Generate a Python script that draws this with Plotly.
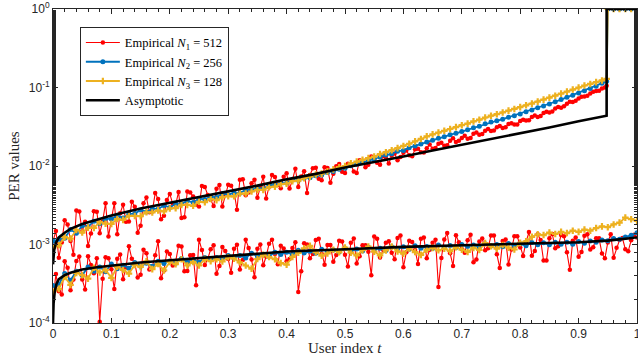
import numpy as np
import plotly.graph_objects as go

# ---------------- data ----------------
t_lower = [round(0.01 * k, 2) for k in range(101)]
t_upper = [round(0.01 * k, 2) for k in range(95)] + [0.948, 0.95, 0.96, 0.97, 0.98, 0.99, 1.0]
t_mid_upper = [round(0.005 + 0.01 * k, 3) for k in range(95)]
t_mid_lower = [round(0.005 + 0.01 * k, 3) for k in range(100)]

red_upper = [1.1e-3, 6.8e-4, 2.04e-3, 1.11e-3, 2.72e-3, 1.46e-3, 9.6e-4, 2.65e-3, 1.39e-3, 3.36e-3,
             2.11e-3, 1.35e-3, 3.21e-3, 1.97e-3, 3.03e-3, 1.73e-3, 3.98e-3, 2.63e-3, 3.79e-3, 2.32e-3,
             4.41e-3, 3.20e-3, 2.18e-3, 4.75e-3, 4.08e-3, 3.05e-3, 5.42e-3, 3.71e-3, 5.14e-3, 3.04e-3,
             5.75e-3, 4.70e-3, 6.67e-3, 4.25e-3, 6.05e-3, 3.93e-3, 7.29e-3, 5.45e-3, 7.22e-3, 5.22e-3,
             8.11e-3, 6.63e-3, 5.42e-3, 8.57e-3, 7.70e-3, 9.53e-3, 6.59e-3, 9.41e-3, 7.98e-3, 1.06e-2,
             8.12e-3, 1.04e-2, 8.16e-3, 1.16e-2, 1.04e-2, 1.23e-2, 1.04e-2, 1.26e-2, 1.36e-2, 1.18e-2,
             1.48e-2, 1.37e-2, 1.63e-2, 1.50e-2, 1.68e-2, 1.66e-2, 1.92e-2, 1.81e-2, 2.09e-2, 2.02e-2,
             2.27e-2, 2.22e-2, 2.57e-2, 2.50e-2, 2.81e-2, 2.80e-2, 3.12e-2, 3.05e-2, 3.44e-2, 3.38e-2,
             3.73e-2, 3.81e-2, 4.22e-2, 4.21e-2, 4.72e-2, 4.79e-2, 5.39e-2, 5.51e-2, 6.23e-2, 6.53e-2,
             7.25e-2, 7.68e-2, 8.40e-2, 9.00e-2, 9.71e-2, 0.105,
             1.0, 1.0, 1.0, 1.0, 1.0, 1.0]

red_upper_mid = [1.49e-3, 1.06e-3, 1.8e-3, 7.4e-4, 2.64e-3, 1.95e-3, 1.38e-3, 2.61e-3, 1.97e-3, 1.26e-3,
                 3.36e-3, 2.51e-3, 1.95e-3, 3.5e-3, 1.41e-3, 3.35e-3, 2.57e-3, 4.52e-3, 2.1e-3, 3.69e-3,
                 3.3e-3, 4.67e-3, 2.23e-3, 4.61e-3, 3.18e-3, 5.56e-3, 4.27e-3, 3.09e-3, 5.71e-3, 4.26e-3,
                 5.6e-3, 2.77e-3, 6.79e-3, 4.59e-3, 6.67e-3, 5.43e-3, 3.86e-3, 7.7e-3, 5.76e-3, 7.3e-3,
                 5.15e-3, 9.23e-3, 7.33e-3, 4.54e-3, 9.38e-3, 6.88e-3, 9.65e-3, 6.1e-3, 9.93e-3, 8.43e-3,
                 1.07e-2, 8.5e-3, 1.18e-2, 9.63e-3, 1.32e-2, 1.10e-2, 1.34e-2, 1.08e-2, 1.44e-2, 1.30e-2,
                 1.58e-2, 1.33e-2, 1.66e-2, 1.49e-2, 1.88e-2, 1.70e-2, 1.98e-2, 1.84e-2, 2.26e-2, 2.09e-2,
                 2.42e-2, 2.28e-2, 2.68e-2, 2.56e-2, 2.95e-2, 2.83e-2, 3.24e-2, 3.11e-2, 3.51e-2, 3.39e-2,
                 3.89e-2, 3.82e-2, 4.39e-2, 4.33e-2, 4.92e-2, 4.95e-2, 5.66e-2, 5.77e-2, 6.60e-2, 6.80e-2,
                 7.63e-2, 7.87e-2, 8.82e-2, 9.07e-2, 9.98e-2]

blue_upper = [1.1e-3, 1.17e-3, 1.20e-3, 1.55e-3, 1.39e-3, 1.73e-3, 1.68e-3, 1.98e-3, 1.84e-3, 2.13e-3,
              2.11e-3, 2.35e-3, 2.18e-3, 2.45e-3, 2.48e-3, 2.76e-3, 2.60e-3, 2.87e-3, 2.84e-3, 3.14e-3,
              2.95e-3, 3.30e-3, 3.27e-3, 3.61e-3, 3.42e-3, 3.83e-3, 3.75e-3, 4.06e-3, 3.98e-3, 4.45e-3,
              4.31e-3, 4.55e-3, 4.51e-3, 4.99e-3, 4.95e-3, 5.23e-3, 5.13e-3, 5.75e-3, 5.71e-3, 6.06e-3,
              6.08e-3, 6.63e-3, 6.57e-3, 7.00e-3, 7.08e-3, 7.54e-3, 7.66e-3, 8.29e-3, 8.52e-3, 9.11e-3,
              9.36e-3, 1.01e-2, 1.05e-2, 1.12e-2, 1.16e-2, 1.23e-2, 1.30e-2, 1.38e-2, 1.43e-2, 1.54e-2,
              1.58e-2, 1.71e-2, 1.80e-2, 1.91e-2, 2.02e-2, 2.13e-2, 2.25e-2, 2.35e-2, 2.51e-2, 2.61e-2,
              2.75e-2, 2.90e-2, 3.08e-2, 3.22e-2, 3.46e-2, 3.63e-2, 3.77e-2, 3.95e-2, 4.18e-2, 4.37e-2,
              4.58e-2, 4.90e-2, 5.17e-2, 5.51e-2, 5.83e-2, 6.18e-2, 6.58e-2, 7.01e-2, 7.51e-2, 7.97e-2,
              8.52e-2, 9.10e-2, 9.74e-2, 0.104, 0.113, 0.12,
              1.0, 1.0, 1.0, 1.0, 1.0, 1.0]

yellow_upper = [9.0e-4, 9.8e-4, 1.24e-3, 1.19e-3, 1.53e-3, 1.42e-3, 1.64e-3, 1.63e-3, 1.93e-3, 1.84e-3,
                1.83e-3, 2.11e-3, 2.06e-3, 2.31e-3, 2.31e-3, 2.30e-3, 2.57e-3, 2.56e-3, 2.72e-3, 2.65e-3,
                2.88e-3, 2.91e-3, 3.19e-3, 3.19e-3, 3.11e-3, 3.50e-3, 3.46e-3, 3.80e-3, 3.67e-3, 3.98e-3,
                4.12e-3, 4.11e-3, 4.46e-3, 4.46e-3, 4.73e-3, 4.95e-3, 4.96e-3, 5.38e-3, 5.46e-3, 5.87e-3,
                5.95e-3, 6.42e-3, 6.50e-3, 7.00e-3, 7.32e-3, 7.78e-3, 7.99e-3, 8.55e-3, 9.05e-3, 9.66e-3,
                1.00e-2, 1.08e-2, 1.14e-2, 1.20e-2, 1.26e-2, 1.32e-2, 1.42e-2, 1.50e-2, 1.59e-2, 1.69e-2,
                1.80e-2, 1.92e-2, 2.06e-2, 2.21e-2, 2.39e-2, 2.53e-2, 2.66e-2, 2.81e-2, 2.96e-2, 3.13e-2,
                3.31e-2, 3.47e-2, 3.70e-2, 3.89e-2, 4.15e-2, 4.37e-2, 4.57e-2, 4.81e-2, 5.07e-2, 5.33e-2,
                5.63e-2, 5.93e-2, 6.24e-2, 6.61e-2, 7.00e-2, 7.42e-2, 7.86e-2, 8.35e-2, 8.86e-2, 9.41e-2,
                0.100, 0.106, 0.111, 0.117, 0.123, 0.129,
                1.0, 1.0, 1.0, 1.0, 1.0, 1.0]

red_lower = [2.0e-4, 2.54e-4, 6.1e-4, 2.62e-4, 6.17e-4, 3.59e-4, 7.1e-4, 4.3e-4, 1.04e-4, 6.86e-4,
             4.83e-4, 6.56e-4, 3.62e-4, 9.5e-4, 5.78e-4, 4.12e-4, 7.76e-4, 5.15e-4, 1.1e-3, 4.67e-4,
             7.57e-4, 6.08e-4, 9.41e-4, 4.61e-4, 7.34e-4, 1.15e-3, 5.48e-4, 8.69e-4, 4.23e-4, 9.28e-4,
             6.52e-4, 8.8e-4, 4.82e-4, 1.15e-3, 6.45e-4, 8.83e-4, 5.44e-4, 1.02e-3, 7.55e-4, 9.65e-4,
             6.1e-4, 9.0e-4, 2.48e-4, 1.04e-3, 6.69e-4, 1.14e-3, 7.63e-4, 9.82e-4, 6.01e-4, 1.12e-3,
             7.4e-4, 1.05e-3, 5.74e-4, 9.78e-4, 8.06e-4, 1.26e-3, 6.81e-4, 1.05e-3, 7.83e-4, 1.21e-3,
             5.13e-4, 1.12e-3, 8.48e-4, 1.18e-3, 6.66e-4, 1.05e-3, 2.88e-4, 1.16e-3, 7.74e-4, 1.31e-3,
             8.79e-4, 1.13e-3, 5.92e-4, 1.09e-3, 8.45e-4, 1.30e-3, 7.52e-4, 1.11e-3, 5.56e-4, 1.27e-3,
             9.18e-4, 1.08e-3, 7.21e-4, 1.35e-3, 6.24e-4, 1.20e-3, 8.93e-4, 1.32e-3, 7.95e-4, 1.12e-3,
             6.96e-4, 1.29e-3, 8.64e-4, 1.20e-3, 7.7e-4, 1.06e-3, 6.78e-4, 1.14e-3, 8.7e-4, 1.13e-3,
             1.23e-3]

red_lower_mid = [4.2e-4, 2.31e-4, 5.06e-4, 3.58e-4, 7.02e-4, 2.67e-4, 5.48e-4, 6.66e-4, 3.66e-4, 6.66e-4,
                 2.71e-4, 7.45e-4, 5.06e-4, 6.59e-4, 3.79e-4, 8.6e-4, 4.81e-4, 7.32e-4, 3.71e-4, 8.15e-4,
                 5.4e-4, 9.66e-4, 4.57e-4, 7.28e-4, 3.02e-4, 8.5e-4, 6.56e-4, 9.8e-4, 5.33e-4, 8.27e-4,
                 4.37e-4, 9.95e-4, 6.33e-4, 9.05e-4, 3.82e-4, 1.0e-3, 7.03e-4, 1.15e-3, 5.59e-4, 8.89e-4,
                 6.53e-4, 1.07e-3, 4.55e-4, 1.0e-3, 7.55e-4, 1.18e-3, 5.53e-4, 9.84e-4, 7.33e-4, 1.09e-3,
                 5.24e-4, 1.19e-3, 7.09e-4, 9.81e-4, 4.05e-4, 1.18e-3, 8.65e-4, 1.1e-3, 6.47e-4, 1.3e-3,
                 7.95e-4, 1.08e-3, 5.66e-4, 1.23e-3, 8.58e-4, 1.15e-3, 6.73e-4, 1.4e-3, 5.34e-4, 1.07e-3,
                 7.83e-4, 1.33e-3, 6.42e-4, 1.19e-3, 8.96e-4, 1.3e-3, 5.03e-4, 1.16e-3, 8.61e-4, 1.27e-3,
                 7.15e-4, 1.44e-3, 8.26e-4, 1.14e-3, 6.25e-4, 1.36e-3, 9.47e-4, 1.27e-3, 4.78e-4, 1.23e-3,
                 8.04e-4, 1.35e-3, 9.22e-4, 1.2e-3, 6.66e-4, 1.35e-3, 9.08e-4, 1.21e-3, 8.23e-4, 1.33e-3]

blue_lower = [3.0e-4, 3.09e-4, 4.27e-4, 3.5e-4, 4.57e-4, 4.07e-4, 5.15e-4, 4.55e-4, 5.18e-4, 4.49e-4,
              5.64e-4, 4.92e-4, 5.46e-4, 5.0e-4, 5.9e-4, 5.3e-4, 5.79e-4, 5.27e-4, 6.14e-4, 5.73e-4,
              6.18e-4, 5.76e-4, 6.62e-4, 5.92e-4, 6.4e-4, 5.95e-4, 6.85e-4, 6.39e-4, 6.84e-4, 6.43e-4,
              7.24e-4, 6.74e-4, 7.26e-4, 6.75e-4, 7.74e-4, 7.14e-4, 7.54e-4, 7.07e-4, 7.95e-4, 7.48e-4,
              7.97e-4, 7.45e-4, 8.42e-4, 7.8e-4, 8.19e-4, 7.75e-4, 8.73e-4, 8.11e-4, 8.5e-4, 8.04e-4,
              8.88e-4, 8.24e-4, 8.74e-4, 8.27e-4, 9.23e-4, 8.57e-4, 8.99e-4, 8.41e-4, 9.39e-4, 8.81e-4,
              9.33e-4, 8.71e-4, 9.61e-4, 8.99e-4, 9.41e-4, 8.88e-4, 9.88e-4, 9.25e-4, 9.68e-4, 9.15e-4,
              9.97e-4, 9.42e-4, 9.86e-4, 9.31e-4, 1.02e-3, 9.59e-4, 1.0e-3, 9.37e-4, 1.03e-3, 9.65e-4,
              1.02e-3, 9.64e-4, 1.06e-3, 9.94e-4, 1.05e-3, 9.93e-4, 1.07e-3, 1.01e-3, 1.07e-3, 1.01e-3,
              1.09e-3, 1.04e-3, 1.11e-3, 1.07e-3, 1.14e-3, 1.12e-3, 1.19e-3, 1.17e-3, 1.25e-3, 1.31e-3,
              1.41e-3]

yellow_lower = [2.5e-4, 2.72e-4, 3.87e-4, 3.06e-4, 4.34e-4, 4.07e-4, 3.68e-4, 5.06e-4, 4.4e-4, 4.75e-4,
                3.76e-4, 5.2e-4, 4.73e-4, 4.26e-4, 5.49e-4, 5.18e-4, 6.09e-4, 4.85e-4, 5.65e-4, 4.67e-4,
                5.99e-4, 5.63e-4, 6.49e-4, 5.4e-4, 6.0e-4, 5.41e-4, 6.51e-4, 6.12e-4, 6.49e-4, 6.07e-4,
                6.88e-4, 6.6e-4, 5.93e-4, 5.4e-4, 4.93e-4, 6.53e-4, 7.38e-4, 6.92e-4, 6.52e-4, 5.79e-4,
                5.53e-4, 6.96e-4, 7.84e-4, 8.96e-4, 9.61e-4, 8.0e-4, 7.21e-4, 7.69e-4, 8.59e-4, 7.96e-4,
                9.15e-4, 7.89e-4, 7.24e-4, 8.45e-4, 9.41e-4, 8.12e-4, 7.26e-4, 8.41e-4, 9.39e-4, 8.16e-4,
                7.65e-4, 8.9e-4, 8.01e-4, 7.38e-4, 8.56e-4, 9.07e-4, 8.44e-4, 8.87e-4, 8.23e-4, 9.24e-4,
                8.6e-4, 8.04e-4, 9.07e-4, 8.51e-4, 1.04e-3, 9.49e-4, 8.83e-4, 9.87e-4, 9.1e-4, 8.64e-4,
                1.05e-3, 1.1e-3, 1.25e-3, 1.35e-3, 1.32e-3, 1.42e-3, 1.36e-3, 1.45e-3, 1.4e-3, 1.5e-3,
                1.45e-3, 1.55e-3, 1.5e-3, 1.62e-3, 1.7e-3, 1.66e-3, 1.8e-3, 1.9e-3, 2.2e-3, 2.1e-3,
                2.0e-3]

t_asym_upper = [0, 0.002, 0.005, 0.01, 0.02, 0.03, 0.05, 0.1, 0.15, 0.2, 0.25, 0.3, 0.35, 0.4, 0.45,
                0.5, 0.55, 0.6, 0.65, 0.7, 0.75, 0.8, 0.85, 0.9, 0.948, 0.948, 1.0]
asym_upper = [5.6e-4, 8.5e-4, 1.05e-3, 1.23e-3, 1.41e-3, 1.58e-3, 1.82e-3, 2.34e-3, 2.88e-3, 3.39e-3,
              4.07e-3, 4.79e-3, 5.62e-3, 6.76e-3, 7.94e-3, 9.55e-3, 1.12e-2, 1.32e-2, 1.58e-2, 1.86e-2,
              2.24e-2, 2.63e-2, 3.09e-2, 3.72e-2, 4.37e-2, 1.0, 1.0]

t_asym_lower = [0, 0.001, 0.003, 0.006, 0.01, 0.02, 0.03, 0.05, 0.075, 0.1, 0.15, 0.2, 0.3, 0.4, 0.5,
                0.6, 0.7, 0.8, 0.9, 0.95, 0.98, 1.0]
asym_lower = [1.0e-4, 1.78e-4, 2.51e-4, 3.16e-4, 3.63e-4, 4.07e-4, 4.37e-4, 4.79e-4, 5.13e-4, 5.37e-4,
              5.89e-4, 6.31e-4, 7.24e-4, 8.13e-4, 8.71e-4, 9.33e-4, 9.77e-4, 1.02e-3, 1.07e-3, 1.12e-3,
              1.17e-3, 1.23e-3]

legend_names = ["Empirical <i>N</i><sub>1</sub> = 512",
                "Empirical <i>N</i><sub>2</sub> = 256",
                "Empirical <i>N</i><sub>3</sub> = 128",
                "Asymptotic"]
x_tick_vals = [0, 0.1, 0.2, 0.3, 0.4, 0.5, 0.6, 0.7, 0.8, 0.9, 1.0]
x_tick_text = ["0", "0.1", "0.2", "0.3", "0.4", "0.5", "0.6", "0.7", "0.8", "0.9", "1"]
y_tick_vals = [1e-4, 1e-3, 1e-2, 1e-1, 1]
y_tick_text = ["10<sup>-4</sup>", "10<sup>-3</sup>", "10<sup>-2</sup>", "10<sup>-1</sup>", "10<sup>0</sup>"]
x_title = "User index <i>t</i>"
y_title = "PER values"


def merge(ta, ya, tb, yb):
    pairs = sorted(zip(list(ta) + list(tb), list(ya) + list(yb)))
    return [p[0] for p in pairs], [p[1] for p in pairs]


t_red_up, y_red_up = merge(t_upper, red_upper, t_mid_upper, red_upper_mid)
t_red_lo, y_red_lo = merge(t_lower, red_lower, t_mid_lower, red_lower_mid)

# ---------------- figure ----------------
RED = "#FF0000"
BLUE = "#0072BD"
YELLOW = "#EDB120"
AX = "#262626"

fig = go.Figure()

series = [
    (legend_names[0], RED, "circle", 4.5, 1.1, (t_red_up, y_red_up), (t_red_lo, y_red_lo)),
    (legend_names[1], BLUE, "circle", 5, 1.8, (t_upper, blue_upper), (t_lower, blue_lower)),
    (legend_names[2], YELLOW, "cross", 5.5, 1.8, (t_upper, yellow_upper), (t_lower, yellow_lower)),
]
for name, col, sym, msize, lw, up, lo in series:
    fig.add_trace(go.Scatter(x=up[0], y=up[1], mode="lines+markers", name=name, legendgroup=name,
                             line=dict(color=col, width=lw),
                             marker=dict(color=col, symbol=sym, size=msize, line=dict(width=0))))
    fig.add_trace(go.Scatter(x=lo[0], y=lo[1], mode="lines+markers", name=name, legendgroup=name,
                             showlegend=False, line=dict(color=col, width=lw),
                             marker=dict(color=col, symbol=sym, size=msize, line=dict(width=0))))

fig.add_trace(go.Scatter(x=t_asym_upper, y=asym_upper, mode="lines", name=legend_names[3],
                         legendgroup="asym", line=dict(color="black", width=2.6)))
fig.add_trace(go.Scatter(x=t_asym_lower, y=asym_lower, mode="lines", name=legend_names[3],
                         legendgroup="asym", showlegend=False, line=dict(color="black", width=2.6)))

fig.update_layout(
    width=638, height=358,
    margin=dict(l=53, r=1, t=9, b=35),
    paper_bgcolor="white", plot_bgcolor="white",
    showlegend=True,
    legend=dict(x=0.046, y=0.943, xanchor="left", yanchor="top",
                bgcolor="white", bordercolor=AX, borderwidth=1,
                font=dict(family="Liberation Serif", size=12.5, color="black"),
                tracegroupgap=0, itemwidth=34),
    xaxis=dict(range=[0, 1], tickvals=x_tick_vals, ticktext=x_tick_text, automargin=False,
               ticks="inside", ticklen=5, tickcolor=AX, showline=True, linecolor=AX, linewidth=1,
               mirror="allticks", showgrid=False, zeroline=False, ticklabeloverflow="allow",
               minor=dict(ticks="inside", dtick=0.02, ticklen=3, tickcolor=AX, showgrid=False),
               tickfont=dict(family="Liberation Sans", size=12, color=AX)),
    yaxis=dict(type="log", range=[-4, 0], tickvals=y_tick_vals, ticktext=y_tick_text, automargin=False,
               ticks="inside", ticklen=5, tickcolor=AX, showline=True, linecolor=AX, linewidth=1,
               mirror="allticks", showgrid=False, zeroline=False, ticklabeloverflow="allow",
               minor=dict(ticks="inside", ticklen=3, tickcolor=AX, showgrid=False),
               tickfont=dict(family="Liberation Sans", size=12, color=AX)),
    annotations=[
        dict(text=x_title, xref="paper", yref="paper", x=0.5, y=-0.08, xanchor="center",
             yanchor="middle", showarrow=False,
             font=dict(family="Liberation Serif", size=15, color=AX)),
        dict(text=y_title, xref="paper", yref="paper", x=-0.067, y=0.5, xanchor="center",
             yanchor="middle", showarrow=False, textangle=-90,
             font=dict(family="Liberation Serif", size=15, color=AX)),
    ],
)

fig.write_html("out.html", config={"displayModeBar": False},
               post_script="document.body.style.margin='0';")
